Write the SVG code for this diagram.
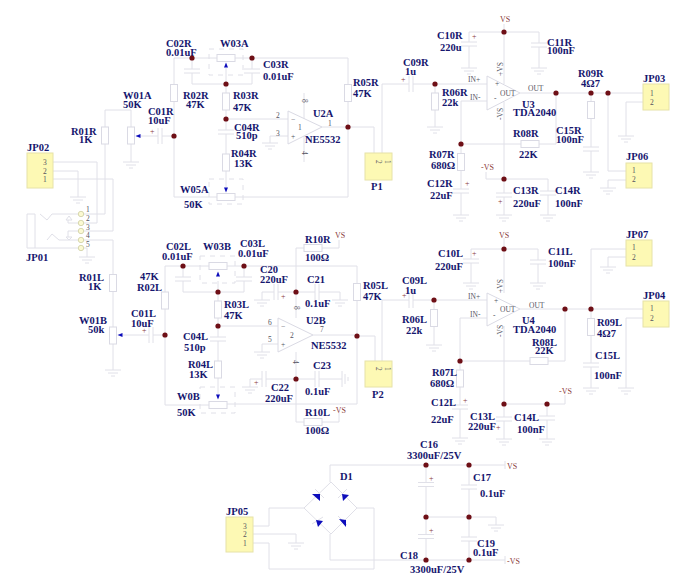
<svg xmlns="http://www.w3.org/2000/svg" width="688" height="587" viewBox="0 0 688 587">
<style>
.w{fill:none;stroke:#e0e0e8;stroke-width:1}
.s{fill:#fff;stroke:#dadae4;stroke-width:1}
.d{fill:none;stroke:#e0e0e8;stroke-width:1;stroke-dasharray:5 5}
.j{fill:#fdf9b4;stroke:#e6e2a8;stroke-width:1}
.t{font:bold 10.5px "Liberation Serif",serif;fill:#16166e}
.v{font:8px "Liberation Serif",serif;fill:#8a3a3a}
.p{font:7.5px "Liberation Serif",serif;fill:#55555f}
.b{fill:#0d0dbb}
.o{fill:#6e0f16}
.y{fill:#fbf9d2;stroke:#d8d8b0}
</style>
<defs>
<g id="gnd"><path class="w" d="M-8 0H8M-5 3H5M-2 6H2"/></g>
<g id="rv"><rect class="s" x="-3.5" y="-8.5" width="7" height="17"/></g>
<g id="rh"><rect class="s" x="-9" y="-3.5" width="18" height="7"/></g>
<g id="cv"><rect x="-8" y="-2" width="16" height="4" fill="#fff"/><path class="w" d="M-8 -2H8M-8 2H8"/></g>
<g id="ch"><rect x="-2" y="-8" width="4" height="16" fill="#fff"/><path class="w" d="M-2 -8V8M2 -8V8"/></g>
<g id="au"><path class="b" d="M0 -2.5L2 2.5H-2Z"/></g>
<g id="ad"><path class="b" d="M0 2.5L2 -2.5H-2Z"/></g>
<g id="al"><path class="b" d="M-2.5 0L2.5 -2V2Z"/></g>
<circle id="dot" class="o" r="2.6"/>
</defs>

<g id="connectors">
<path class="w" d="M105 127V110H131V127M105 144V214H84M131 144V162M84 223H97V162H53M84 231H113V179H53M53 171H78V197"/>
<path class="w" d="M174 136V58H217M174 136V197H217M235 58H348V197H235M192 58V84M192 84H252V58M226 84V119M226 119V188M226 68V84M226 119H288M288 136H270V143M304 93V119M304 135V162M322 127H374V153M382 153V84H435M435 84H487M435 84V127M174 136H136"/>
<path class="w" d="M469 32H539V68M469 32V68M504 24V84M504 102V215M486 172V179H548V215M487 101H461V190V215M461 144H556V93M520 93H643M591 93V172M608 93V171H626M643 102H626V136M626 180H608V188"/>
<path class="w" d="M84 240H113V370M84 248H87V257"/>
<path class="w" d="M165 335V266H209M165 335V405H209M227 266H357V404H227M183 266V292M183 292H244V266M218 281V292M218 292V397M218 326H278M278 344H262V352M357 336H375V361M313 335H357M382 361V300H434M434 300H487M434 300V345M165 335H120"/>
<path class="w" d="M296 248V318M296 352V422M296 248H339V240M296 422H339V413M296 292H262V300M296 292H340V300M296 379H250V387M296 379H342"/>
<path class="w" d="M471 249H538V283M471 249V283M504 238V293M504 326V439M487 318H460V438M460 361H565V309M520 309H643M591 249V388M591 249H626M626 257H608V267M643 318H626V388M504 404H565V395M547 404V439"/>
<path class="w" d="M330 482V465H505M505 461V469M330 534V560H505M505 556V564M304 508H269V526H253M253 534H296V543M253 543H269V569H374V508H357M426 465V560M469 465V560M426 517H496V525"/>
<path class="w" d="M331 482L304 508L331 534L357 508Z"/>
</g>

<g id="JP01">
<path class="w" d="M35 214H27V248H78M35 214V248M40 214L47 220L52 214H78M47 240L52 234L59 240H78M68 220V223H78M68 231V237M68 231H78M66 220H72L69 216ZM66 237H72L69 240Z"/>
<circle class="y" cx="81" cy="214" r="2.7"/><circle class="y" cx="81" cy="223" r="2.7"/><circle class="y" cx="81" cy="231" r="2.7"/><circle class="y" cx="81" cy="240" r="2.7"/><circle class="y" cx="81" cy="248" r="2.7"/>
<text class="p" x="86" y="212">1</text><text class="p" x="86" y="221">2</text><text class="p" x="86" y="230">3</text><text class="p" x="86" y="238">4</text><text class="p" x="86" y="247">5</text>
<text class="t" x="26" y="261">JP01</text>
<use href="#gnd" x="87" y="257"/>
</g>
<g id="JP02"><rect class="j" x="27" y="153" width="26" height="35"/><text class="p" x="43" y="165">3</text><text class="p" x="43" y="174">2</text><text class="p" x="43" y="182">1</text><text class="t" x="27" y="151">JP02</text><use href="#gnd" x="78" y="197"/></g>
<g id="R01R"><use href="#rv" x="105" y="135.500"/><text class="t" x="71" y="135">R01R</text><text class="t" x="79" y="143">1K</text></g>
<g id="W01A"><use href="#rv" x="131" y="135.500"/><use href="#al" x="138" y="136"/><text class="t" x="123" y="99">W01A</text><text class="t" x="123" y="108">50K</text><use href="#gnd" x="131" y="162"/></g>
<g id="C01R"><use href="#ch" x="160" y="136"/><text class="v" x="150" y="134">+</text><text class="t" x="148" y="115">C01R</text><text class="t" x="148" y="124">10uF</text></g>
<g id="C02R"><use href="#cv" x="192" y="71"/><text class="t" x="166" y="47">C02R</text><text class="t" x="166" y="56">0.01uF</text></g>
<g id="R02R"><use href="#rv" x="174" y="93"/><text class="t" x="183" y="99">R02R</text><text class="t" x="186" y="108">47K</text></g>
<g id="W03A"><rect class="d" x="209" y="49" width="34" height="26"/><use href="#rh" x="226" y="58"/><use href="#au" x="226" y="65"/><text class="t" x="220" y="47">W03A</text></g>
<g id="C03R"><use href="#cv" x="252" y="71"/><text class="t" x="263" y="68">C03R</text><text class="t" x="263" y="80">0.01uF</text></g>
<g id="R03R"><use href="#rv" x="226" y="101.500"/><text class="t" x="233" y="99">R03R</text><text class="t" x="233" y="111">47K</text></g>
<g id="C04R"><use href="#cv" x="226" y="132"/><text class="t" x="234" y="131">C04R</text><text class="t" x="236" y="139">510p</text></g>
<g id="R04R"><use href="#rv" x="226" y="162.500"/><text class="t" x="231" y="157">R04R</text><text class="t" x="234" y="167">13K</text></g>
<g id="W05A"><rect class="d" x="209" y="179" width="34" height="25"/><use href="#rh" x="226" y="197"/><use href="#ad" x="226" y="190"/><text class="t" x="180" y="193">W05A</text><text class="t" x="184" y="208">50K</text></g>
<g id="U2A"><path class="s" d="M288 111L322 127L288 144Z"/><text class="p" x="276" y="118">2</text><text class="p" x="276" y="136">3</text><text class="p" x="328" y="126">1</text><text class="p" x="298" y="130">1</text><text class="p" transform="translate(302 99) rotate(90)">8</text><text class="p" transform="translate(302 151) rotate(90)">4</text><text class="p" x="291" y="122">−</text><text class="p" x="291" y="139">+</text><text class="t" x="313" y="117">U2A</text><text class="t" x="305" y="143">NE5532</text><use href="#gnd" x="270" y="143"/></g>
<g id="R05R"><use href="#rv" x="348" y="93"/><text class="t" x="353" y="86">R05R</text><text class="t" x="353" y="97">47K</text></g>
<g id="P1"><rect class="j" x="365" y="153" width="27" height="27"/><text class="p" transform="translate(375.500 160) rotate(90)">2</text><text class="p" transform="translate(384.500 160) rotate(90)">1</text><text class="t" x="371" y="190">P1</text></g>
<g id="C09R"><use href="#ch" x="411" y="84"/><text class="v" x="401" y="82">+</text><text class="t" x="403" y="66">C09R</text><text class="t" x="405" y="75">1u</text></g>
<g id="R06R"><use href="#rv" x="435" y="101.500"/><text class="t" x="442" y="96">R06R</text><text class="t" x="442" y="106">22k</text><use href="#gnd" x="435" y="127"/></g>
<g id="C10R"><use href="#cv" x="469" y="44"/><text class="v" x="472" y="39">+</text><text class="t" x="437" y="39">C10R</text><text class="t" x="440" y="51">220u</text><use href="#gnd" x="469" y="68"/></g>
<g id="C11R"><use href="#cv" x="539" y="45"/><text class="t" x="547" y="46">C11R</text><text class="t" x="547" y="54">100nF</text><use href="#gnd" x="539" y="68"/></g>
<g id="U3"><path class="s" d="M487 76L520 93L487 110Z"/><text class="p" x="468" y="82">IN+</text><text class="p" x="470" y="100">IN-</text><text class="p" x="495" y="86">+</text><text class="p" x="494" y="101">-</text><text class="p" x="500" y="96">OUT</text><text class="p" x="528" y="91">OUT</text><text class="p" transform="translate(502.500 76) rotate(-90)">+VS</text><text class="p" transform="translate(502.500 120) rotate(-90)">-VS</text><text class="t" x="522" y="108">U3</text><text class="t" x="513" y="116">TDA2040</text></g>
<g id="VSR"><text class="v" x="500" y="22">VS</text></g>
<g id="R07R"><use href="#rv" x="461" y="162"/><text class="t" x="429" y="158">R07R</text><text class="t" x="431" y="169">680Ω</text></g>
<g id="C12R"><use href="#cv" x="461" y="191"/><text class="v" x="465" y="186">+</text><text class="t" x="427" y="187">C12R</text><text class="t" x="430" y="199">22uF</text><use href="#gnd" x="461" y="215"/></g>
<g id="R08R"><use href="#rh" x="530" y="144"/><text class="t" x="513" y="137">R08R</text><text class="t" x="519" y="158">22K</text></g>
<g id="C13R"><use href="#cv" x="504" y="195"/><text class="v" x="498" y="204">+</text><text class="t" x="513" y="194">C13R</text><text class="t" x="513" y="207">220uF</text><use href="#gnd" x="504" y="215"/></g>
<g id="C14R"><use href="#cv" x="548" y="193"/><text class="t" x="555" y="194">C14R</text><text class="t" x="555" y="207">100nF</text><use href="#gnd" x="548" y="215"/></g>
<g id="NVSR"><text class="v" x="481" y="170">-VS</text></g>
<g id="C15R"><text class="t" x="556" y="134">C15R</text><text class="t" x="556" y="143">100nF</text><use href="#cv" x="591" y="149"/><use href="#gnd" x="591" y="172"/></g>
<g id="R09R"><use href="#rv" x="591" y="110"/><text class="t" x="578" y="77">R09R</text><text class="t" x="581" y="87">4Ω7</text></g>
<g id="JP03"><rect class="j" x="643" y="84" width="26" height="26"/><text class="p" x="650" y="96">1</text><text class="p" x="650" y="105">2</text><text class="t" x="643" y="82">JP03</text><use href="#gnd" x="626" y="136"/></g>
<g id="JP06"><rect class="j" x="626" y="163" width="26" height="25"/><text class="p" x="632" y="173">1</text><text class="p" x="632" y="182">2</text><text class="t" x="626" y="160">JP06</text><use href="#gnd" x="608" y="188"/></g>

<g id="R01L"><use href="#rv" x="113" y="283"/><text class="t" x="79" y="281">R01L</text><text class="t" x="88" y="290">1K</text></g>
<g id="W01B"><use href="#rv" x="113" y="335.500"/><use href="#al" x="120" y="335"/><text class="t" x="79" y="324">W01B</text><text class="t" x="88" y="333">50k</text><use href="#gnd" x="113" y="370"/></g>
<g id="C01L"><use href="#ch" x="151" y="335"/><text class="v" x="142" y="333">+</text><text class="t" x="131" y="317">C01L</text><text class="t" x="131" y="327">10uF</text></g>
<g id="R02L"><use href="#rv" x="165" y="300.500"/><text class="t" x="140" y="280">47K</text><text class="t" x="137" y="291">R02L</text></g>
<g id="C02L"><use href="#cv" x="183" y="279"/><text class="t" x="166" y="250">C02L</text><text class="t" x="162" y="260">0.01uF</text></g>
<g id="W03B"><rect class="d" x="200" y="256" width="35" height="27"/><use href="#rh" x="218" y="266"/><use href="#au" x="218" y="274"/><text class="t" x="203" y="250">W03B</text></g>
<g id="C03L"><use href="#cv" x="244" y="279"/><text class="t" x="240" y="247">C03L</text><text class="t" x="238" y="257">0.01uF</text></g>
<g id="R03L"><use href="#rv" x="218" y="309.500"/><text class="t" x="224" y="308">R03L</text><text class="t" x="224" y="319">47K</text></g>
<g id="C04L"><use href="#cv" x="218" y="339"/><text class="t" x="183" y="340">C04L</text><text class="t" x="184" y="351">510p</text></g>
<g id="R04L"><use href="#rv" x="218" y="369.500"/><text class="t" x="188" y="368">R04L</text><text class="t" x="189" y="378">13K</text></g>
<g id="W0B"><rect class="d" x="200" y="387" width="35" height="26"/><use href="#rh" x="218" y="405"/><use href="#ad" x="218" y="397"/><text class="t" x="177" y="400">W0B</text><text class="t" x="177" y="416">50K</text></g>
<g id="R10R"><use href="#rh" x="313" y="248"/><text class="t" x="305" y="243">R10R</text><text class="t" x="305" y="261">100Ω</text><text class="v" x="335" y="238">VS</text></g>
<g id="R10L"><use href="#rh" x="313" y="422"/><text class="t" x="305" y="416">R10L</text><text class="t" x="305" y="434">100Ω</text><text class="v" x="333" y="413">-VS</text></g>
<g id="C20"><use href="#ch" x="276" y="292"/><text class="v" x="281" y="299">+</text><text class="t" x="260" y="273">C20</text><text class="t" x="260" y="283">220uF</text><use href="#gnd" x="262" y="300"/></g>
<g id="C21"><use href="#ch" x="317" y="292"/><text class="t" x="307" y="283">C21</text><text class="t" x="305" y="307">0.1uF</text><use href="#gnd" x="340" y="300"/></g>
<g id="C22"><use href="#ch" x="264" y="379"/><text class="v" x="254" y="385">+</text><text class="t" x="271" y="391">C22</text><text class="t" x="265" y="402">220uF</text><use href="#gnd" x="250" y="387"/></g>
<g id="C23"><use href="#ch" x="317" y="379"/><text class="t" x="313" y="369">C23</text><text class="t" x="305" y="395">0.1uF</text><path class="w" d="M342 371V387M345 374V384M348 377V381"/></g>
<g id="U2B"><path class="s" d="M278 318L313 335L278 352Z"/><text class="p" x="268" y="325">6</text><text class="p" x="268" y="342">5</text><text class="p" x="320" y="332">7</text><text class="p" x="290" y="338">2</text><text class="p" transform="translate(294 306) rotate(90)">8</text><text class="p" transform="translate(293 360) rotate(90)">4</text><text class="p" x="281" y="329">−</text><text class="p" x="281" y="347">+</text><text class="t" x="306" y="324">U2B</text><text class="t" x="311" y="349">NE5532</text><use href="#gnd" x="262" y="352"/></g>
<g id="R05L"><use href="#rv" x="357" y="292"/><text class="t" x="363" y="289">R05L</text><text class="t" x="363" y="300">47K</text></g>
<g id="P2"><rect class="j" x="365" y="361" width="27" height="26"/><text class="p" transform="translate(375.500 367) rotate(90)">2</text><text class="p" transform="translate(384.500 367) rotate(90)">1</text><text class="t" x="372" y="398">P2</text></g>
<g id="C09L"><use href="#ch" x="411" y="300"/><text class="v" x="402" y="298">+</text><text class="t" x="402" y="284">C09L</text><text class="t" x="405" y="294">1u</text></g>
<g id="R06L"><use href="#rv" x="434" y="318"/><text class="t" x="402" y="323">R06L</text><text class="t" x="406" y="334">22k</text><use href="#gnd" x="434" y="345"/></g>
<g id="C10L"><use href="#cv" x="471" y="261"/><text class="v" x="472" y="256">+</text><text class="t" x="438" y="257">C10L</text><text class="t" x="435" y="270">220uF</text><use href="#gnd" x="471" y="283"/></g>
<g id="C11L"><use href="#cv" x="538" y="262"/><text class="t" x="548" y="255">C11L</text><text class="t" x="548" y="267">100nF</text><use href="#gnd" x="538" y="283"/></g>
<g id="U4"><path class="s" d="M487 293L520 309L487 326Z"/><text class="p" x="468" y="299">IN+</text><text class="p" x="470" y="317">IN-</text><text class="p" x="494" y="303">+</text><text class="p" x="493" y="318">-</text><text class="p" x="500" y="312">OUT</text><text class="p" x="529" y="308">OUT</text><text class="p" transform="translate(502.500 293) rotate(-90)">+VS</text><text class="p" transform="translate(502.500 337) rotate(-90)">-VS</text><text class="t" x="522" y="324">U4</text><text class="t" x="513" y="333">TDA2040</text></g>
<g id="VSL"><text class="v" x="499" y="238">VS</text></g>
<g id="R08L"><use href="#rh" x="539" y="361"/><text class="t" x="532" y="346">R08L</text><text class="t" x="535" y="354">22K</text></g>
<g id="R07L"><use href="#rv" x="460" y="378.500"/><text class="t" x="432" y="376">R07L</text><text class="t" x="430" y="387">680Ω</text></g>
<g id="C12L"><use href="#cv" x="460" y="407"/><text class="v" x="463" y="403">+</text><text class="t" x="431" y="406">C12L</text><text class="t" x="431" y="423">22uF</text><use href="#gnd" x="460" y="438"/></g>
<g id="C13L"><use href="#cv" x="504" y="419"/><text class="v" x="496" y="430">+</text><text class="t" x="470" y="420">C13L</text><text class="t" x="468" y="430">220uF</text><use href="#gnd" x="504" y="439"/></g>
<g id="C14L"><use href="#cv" x="547" y="418"/><text class="t" x="514" y="421">C14L</text><text class="t" x="517" y="433">100nF</text><use href="#gnd" x="547" y="439"/></g>
<g id="NVSL"><text class="v" x="559" y="394">-VS</text></g>
<g id="R09L"><use href="#rv" x="591" y="327"/><text class="t" x="597" y="326">R09L</text><text class="t" x="597" y="337">4Ω7</text></g>
<g id="C15L"><use href="#cv" x="591" y="365"/><text class="t" x="595" y="359">C15L</text><text class="t" x="594" y="379">100nF</text><use href="#gnd" x="591" y="388"/></g>
<g id="JP07"><rect class="j" x="626" y="240" width="26" height="26"/><text class="p" x="632" y="250">1</text><text class="p" x="632" y="260">2</text><text class="t" x="626" y="238">JP07</text><use href="#gnd" x="608" y="267"/></g>
<g id="JP04"><rect class="j" x="643" y="301" width="26" height="26"/><text class="p" x="650" y="311">1</text><text class="p" x="650" y="321">2</text><text class="t" x="643" y="299">JP04</text><use href="#gnd" x="626" y="388"/></g>

<g id="D1">
<path class="w" d="M315 489L324 498M338 498L347 489M312 524L323 517M338 516L347 525"/>
<path class="b" d="M312 494H320V501ZM342 494L349 495L343 501ZM316 520L323 521L318 527ZM339 519L346 520V527Z"/>
<text class="t" x="340" y="480">D1</text>
</g>
<g id="JP05"><rect class="j" x="226" y="517" width="27" height="35"/><text class="p" x="243" y="529">3</text><text class="p" x="243" y="537">2</text><text class="p" x="243" y="546">1</text><text class="t" x="226" y="515">JP05</text><use href="#gnd" x="296" y="543"/></g>
<g id="C16"><use href="#cv" x="426" y="484.500"/><text class="v" x="429" y="481">+</text><text class="t" x="420" y="448">C16</text><text class="t" x="407" y="459">3300uF/25V</text></g>
<g id="C17"><use href="#cv" x="469" y="487"/><text class="t" x="473" y="481">C17</text><text class="t" x="480" y="497">0.1uF</text></g>
<g id="C18"><use href="#cv" x="426" y="536.500"/><text class="v" x="429" y="533">+</text><text class="t" x="400" y="559">C18</text><text class="t" x="410" y="573">3300uF/25V</text></g>
<g id="C19"><use href="#cv" x="469" y="539"/><text class="t" x="477" y="547">C19</text><text class="t" x="473" y="556">0.1uF</text></g>
<g id="PWR"><text class="v" x="507" y="469">VS</text><text class="v" x="507" y="564">-VS</text><use href="#gnd" x="496" y="525"/></g>

<g id="junctions">
<use href="#dot" x="192" y="58"/><use href="#dot" x="252" y="58"/><use href="#dot" x="226" y="84"/><use href="#dot" x="226" y="119"/><use href="#dot" x="174" y="136"/><use href="#dot" x="348" y="127"/><use href="#dot" x="435" y="84"/><use href="#dot" x="504" y="32"/><use href="#dot" x="461" y="144"/><use href="#dot" x="504" y="179"/><use href="#dot" x="556" y="93"/><use href="#dot" x="591" y="93"/><use href="#dot" x="608" y="93"/>
<use href="#dot" x="183" y="266"/><use href="#dot" x="244" y="266"/><use href="#dot" x="218" y="292"/><use href="#dot" x="218" y="326"/><use href="#dot" x="165" y="335"/><use href="#dot" x="296" y="292"/><use href="#dot" x="296" y="379"/><use href="#dot" x="357" y="336"/><use href="#dot" x="434" y="300"/><use href="#dot" x="504" y="249"/><use href="#dot" x="460" y="361"/><use href="#dot" x="565" y="309"/><use href="#dot" x="591" y="309"/><use href="#dot" x="504" y="404"/><use href="#dot" x="547" y="404"/>
<use href="#dot" x="426" y="465"/><use href="#dot" x="469" y="465"/><use href="#dot" x="426" y="517"/><use href="#dot" x="469" y="517"/><use href="#dot" x="426" y="560"/><use href="#dot" x="469" y="560"/>
</g>
</svg>
